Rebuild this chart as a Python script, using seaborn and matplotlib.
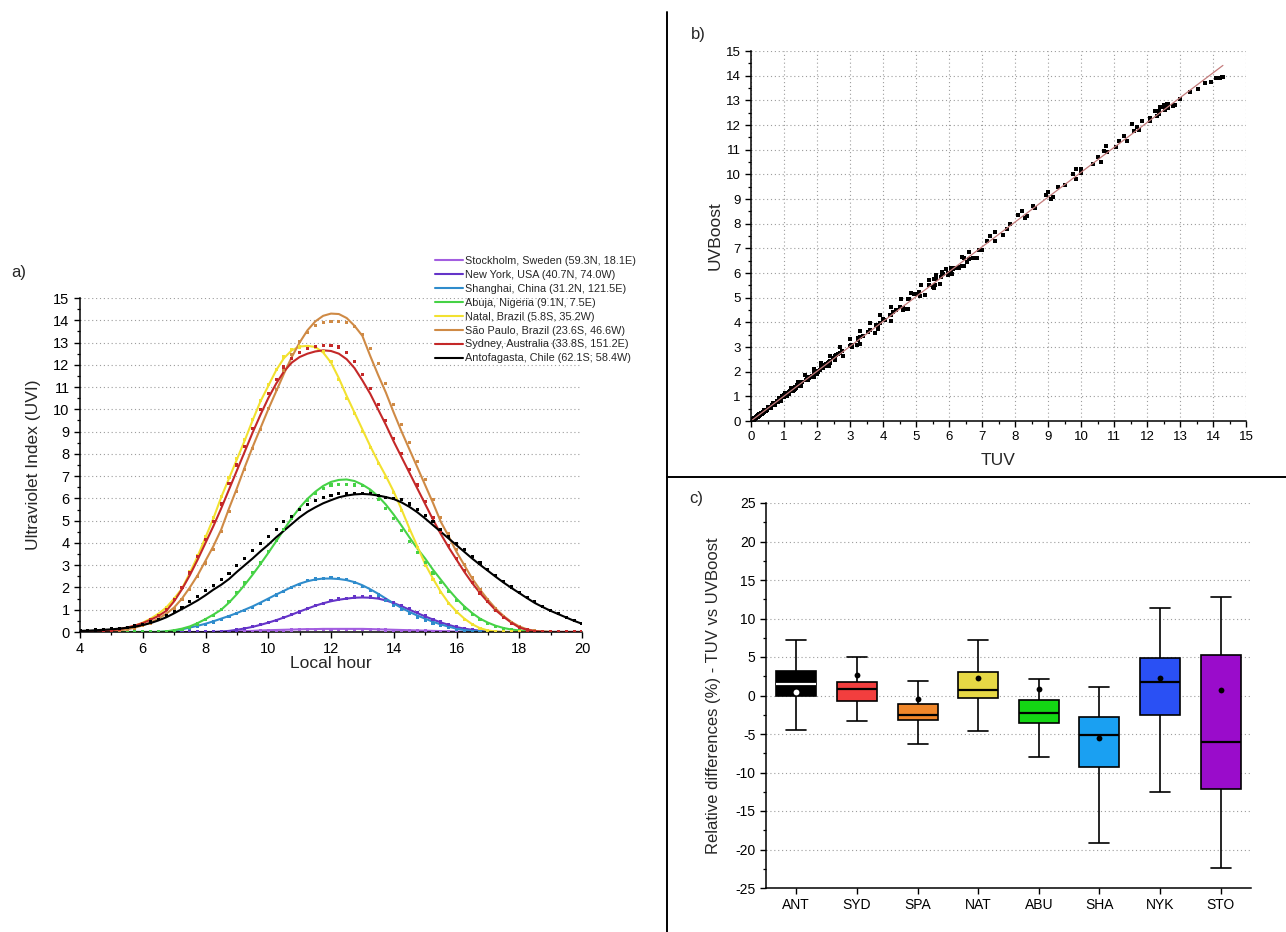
import numpy as np
import pandas as pd
import matplotlib
matplotlib.use("Agg")
import matplotlib.pyplot as plt
from matplotlib.lines import Line2D
from matplotlib.ticker import MultipleLocator
import seaborn as sns

# sampling grid of local hour (every 15 min, 4h -> 20h)
hours = np.arange(4, 20.001, 0.25)

cities = ["Stockholm, Sweden (59.3N, 18.1E)",
          "New York, USA (40.7N, 74.0W)",
          "Shanghai, China (31.2N, 121.5E)",
          "Abuja, Nigeria (9.1N, 7.5E)",
          "Natal, Brazil (5.8S, 35.2W)",
          "São Paulo, Brazil (23.6S, 46.6W)",
          "Sydney, Australia (33.8S, 151.2E)",
          "Antofagasta, Chile (62.1S; 58.4W)"]
city_colors = ["#a35ee0", "#6434c8", "#2f8ccc", "#46d246",
               "#f2e130", "#cf8a45", "#c42828", "#000000"]

# TUV curves (lines), one row per hour: h.00 h.25 h.50 h.75
sto_line = [0, 0, 0, 0,  0, 0, 0, 0,  0, 0, 0, 0,  0, 0, 0, 0,
            0, 0, 0.01, 0.02,  0.03, 0.04, 0.05, 0.07,  0.08, 0.09, 0.10, 0.11,
            0.12, 0.13, 0.13, 0.14,  0.14, 0.14, 0.14, 0.14,  0.14, 0.13, 0.12, 0.11,
            0.10, 0.09, 0.08, 0.07,  0.06, 0.05, 0.04, 0.03,  0.02, 0.01, 0.01, 0,
            0, 0, 0, 0,  0, 0, 0, 0,  0, 0, 0, 0,  0]
nyk_line = [0, 0, 0, 0,  0, 0, 0, 0,  0, 0, 0, 0,  0, 0, 0, 0,
            0, 0, 0.02, 0.05,  0.10, 0.16, 0.23, 0.32,  0.42, 0.53, 0.65, 0.78,
            0.92, 1.05, 1.18, 1.29,  1.38, 1.45, 1.50, 1.54,  1.55, 1.54, 1.50, 1.42,
            1.30, 1.16, 1.00, 0.85,  0.70, 0.56, 0.43, 0.32,  0.22, 0.15, 0.10, 0.06,
            0.03, 0.01, 0, 0,  0, 0, 0, 0,  0, 0, 0, 0,  0]
sha_line = [0, 0, 0, 0,  0, 0, 0, 0,  0, 0, 0, 0.02,  0.06, 0.12, 0.20, 0.28,
            0.37, 0.48, 0.60, 0.72,  0.85, 1.00, 1.15, 1.32,  1.50, 1.68, 1.85, 2.02,
            2.17, 2.28, 2.36, 2.40,  2.40, 2.38, 2.33, 2.24,  2.10, 1.92, 1.72, 1.50,
            1.28, 1.08, 0.90, 0.74,  0.60, 0.46, 0.34, 0.24,  0.15, 0.09, 0.05, 0.02,
            0, 0, 0, 0,  0, 0, 0, 0,  0, 0, 0, 0,  0]
abu_line = [0, 0, 0, 0,  0, 0, 0, 0,  0, 0, 0, 0.03,  0.08, 0.15, 0.25, 0.40,
            0.58, 0.78, 1.00, 1.32,  1.70, 2.12, 2.57, 3.05,  3.55, 4.07, 4.60, 5.12,
            5.58, 5.98, 6.30, 6.56,  6.74, 6.83, 6.85, 6.78,  6.62, 6.40, 6.10, 5.72,
            5.27, 4.77, 4.25, 3.75,  3.30, 2.80, 2.35, 1.90,  1.50, 1.15, 0.85, 0.60,
            0.42, 0.28, 0.18, 0.11,  0.07, 0.04, 0.02, 0.01,  0, 0, 0, 0,  0]
nat_line = [0, 0, 0.01, 0.03,  0.06, 0.11, 0.18, 0.28,  0.42, 0.60, 0.82, 1.10,
            1.50, 1.95, 2.65, 3.40,  4.25, 5.10, 6.05, 6.90,  7.75, 8.60, 9.50, 10.35,
            11.05, 11.75, 12.30, 12.65,  12.82, 12.85, 12.80, 12.55,
            12.10, 11.40, 10.60, 9.85,  9.10, 8.35, 7.65, 7.00,
            6.30, 5.50, 4.65, 3.85,  3.05, 2.40, 1.80, 1.30,  0.92, 0.60, 0.35, 0.17,
            0.07, 0.02, 0, 0,  0, 0, 0, 0,  0, 0, 0, 0,  0]
spa_line = [0, 0, 0.01, 0.02,  0.04, 0.07, 0.12, 0.20,  0.30, 0.43, 0.60, 0.82,
            1.10, 1.50, 2.00, 2.55,  3.20, 3.85, 4.60, 5.55,  6.45, 7.40, 8.30, 9.15,
            10.00, 10.80, 11.60, 12.35,  13.00, 13.55, 13.95, 14.20,
            14.30, 14.28, 14.10, 13.75,  13.30, 12.40, 11.55, 10.75,
            9.85, 9.00, 8.20, 7.40,  6.60, 5.80, 4.95, 4.30,  3.60, 3.00, 2.40, 1.90,
            1.45, 1.05, 0.72, 0.45,  0.25, 0.12, 0.05, 0.02,  0, 0, 0, 0,  0]
syd_line = [0, 0.01, 0.02, 0.04,  0.08, 0.13, 0.20, 0.29,  0.40, 0.55, 0.72, 0.95,
            1.38, 1.92, 2.55, 3.25,  4.00, 4.75, 5.55, 6.40,  7.25, 8.10, 8.95, 9.75,
            10.50, 11.15, 11.70, 12.10,  12.35, 12.50, 12.60, 12.65,
            12.62, 12.50, 12.25, 11.85,  11.30, 10.70, 10.00, 9.30,
            8.55, 7.85, 7.15, 6.45,  5.75, 5.05, 4.40, 3.80,  3.25, 2.70, 2.20, 1.75,
            1.35, 0.98, 0.68, 0.42,  0.20, 0.10, 0.04, 0.01,  0, 0, 0, 0,  0]
ant_line = [0.05, 0.06, 0.08, 0.10,  0.12, 0.15, 0.19, 0.24,  0.31, 0.40, 0.52, 0.66,
            0.84, 1.03, 1.22, 1.42,  1.65, 1.90, 2.12, 2.38,  2.70, 3.00, 3.30, 3.62,
            3.92, 4.25, 4.55, 4.85,  5.15, 5.40, 5.60, 5.78,  5.92, 6.05, 6.13, 6.18,
            6.20, 6.18, 6.13, 6.06,  5.97, 5.82, 5.62, 5.38,  5.10, 4.80, 4.50, 4.20,
            3.90, 3.60, 3.30, 3.02,  2.75, 2.48, 2.22, 1.98,  1.75, 1.52, 1.30, 1.12,
            0.95, 0.80, 0.65, 0.50,  0.37]

# UVBoost estimates (dots)
sto_dots = [0, 0, 0, 0,  0, 0, 0, 0,  0, 0, 0, 0,  0, 0, 0, 0,
            0, 0, 0, 0.01,  0.02, 0.03, 0.04, 0.05,  0.06, 0.07, 0.08, 0.09,
            0.10, 0.11, 0.11, 0.12,  0.12, 0.12, 0.12, 0.12,  0.12, 0.11, 0.10, 0.09,
            0.08, 0.07, 0.06, 0.05,  0.05, 0.04, 0.03, 0.02,  0.01, 0.01, 0, 0,
            0, 0, 0, 0,  0, 0, 0, 0,  0, 0, 0, 0,  0]
nyk_dots = [0, 0, 0, 0,  0, 0, 0, 0,  0, 0, 0, 0,  0, 0, 0, 0,
            0, 0, 0.01, 0.04,  0.09, 0.15, 0.24, 0.33,  0.44, 0.52, 0.66, 0.80,
            0.90, 1.07, 1.20, 1.27,  1.40, 1.48, 1.52, 1.57,  1.58, 1.57, 1.55, 1.46,
            1.33, 1.18, 1.04, 0.88,  0.72, 0.58, 0.45, 0.33,  0.23, 0.15, 0.10, 0.05,
            0.02, 0.01, 0, 0,  0, 0, 0, 0,  0, 0, 0, 0,  0]
sha_dots = [0, 0, 0, 0,  0, 0, 0, 0,  0, 0, 0, 0.01,  0.04, 0.10, 0.17, 0.25,
            0.33, 0.45, 0.57, 0.70,  0.82, 0.98, 1.12, 1.30,  1.46, 1.66, 1.82, 2.00,
            2.15, 2.30, 2.38, 2.42,  2.43, 2.40, 2.35, 2.22,  2.06, 1.86, 1.66, 1.42,
            1.20, 1.00, 0.82, 0.66,  0.52, 0.40, 0.29, 0.20,  0.12, 0.07, 0.03, 0.01,
            0, 0, 0, 0,  0, 0, 0, 0,  0, 0, 0, 0,  0]
abu_dots = [0, 0, 0, 0,  0, 0, 0, 0,  0, 0, 0, 0.02,  0.06, 0.13, 0.22, 0.36,
            0.55, 0.76, 1.02, 1.36,  1.78, 2.20, 2.66, 3.10,  3.62, 4.10, 4.60, 5.08,
            5.52, 5.90, 6.20, 6.45,  6.60, 6.62, 6.62, 6.60,  6.58, 6.30, 5.95, 5.55,
            5.10, 4.55, 4.05, 3.58,  3.12, 2.65, 2.22, 1.80,  1.40, 1.08, 0.80, 0.56,
            0.40, 0.26, 0.16, 0.10,  0.06, 0.03, 0.02, 0.01,  0, 0, 0, 0,  0]
nat_dots = [0, 0, 0.01, 0.02,  0.05, 0.10, 0.17, 0.27,  0.40, 0.58, 0.80, 1.08,
            1.48, 1.98, 2.70, 3.45,  4.30, 5.15, 6.10, 6.95,  7.80, 8.65, 9.55, 10.40,
            11.10, 11.80, 12.35, 12.70,  12.80, 12.80, 12.78, 12.60,
            12.15, 11.35, 10.50, 9.80,  9.00, 8.30, 7.55, 6.95,
            6.25, 5.45, 4.55, 3.80,  3.00, 2.35, 1.78, 1.28,  0.90, 0.58, 0.33, 0.16,
            0.06, 0.02, 0, 0,  0, 0, 0, 0,  0, 0, 0, 0,  0]
spa_dots = [0, 0, 0.01, 0.02,  0.03, 0.06, 0.11, 0.18,  0.28, 0.40, 0.56, 0.78,
            1.05, 1.45, 1.92, 2.48,  3.10, 3.72, 4.50, 5.40,  6.30, 7.30, 8.25, 9.10,
            10.05, 10.90, 11.75, 12.45,  13.05, 13.45, 13.75, 13.90,
            13.95, 13.95, 13.90, 13.70,  13.35, 12.75, 12.05, 11.15,
            10.20, 9.30, 8.50, 7.65,  6.85, 5.95, 5.15, 4.40,  3.70, 3.05, 2.45, 1.92,
            1.45, 1.05, 0.70, 0.44,  0.24, 0.11, 0.05, 0.02,  0, 0, 0, 0,  0]
syd_dots = [0, 0.01, 0.02, 0.04,  0.07, 0.12, 0.19, 0.28,  0.40, 0.56, 0.75, 1.00,
            1.45, 2.00, 2.65, 3.38,  4.15, 4.95, 5.75, 6.65,  7.50, 8.35, 9.15, 10.00,
            10.70, 11.35, 11.90, 12.30,  12.55, 12.72, 12.82, 12.85,
            12.85, 12.80, 12.55, 12.15,  11.55, 10.95, 10.20, 9.50,
            8.70, 8.00, 7.30, 6.60,  5.85, 5.15, 4.50, 3.88,  3.30, 2.75, 2.22, 1.75,
            1.35, 0.98, 0.66, 0.40,  0.20, 0.09, 0.04, 0.01,  0, 0, 0, 0,  0]
ant_dots = [0.05, 0.07, 0.09, 0.11,  0.14, 0.17, 0.21, 0.27,  0.34, 0.45, 0.58, 0.74,
            0.92, 1.12, 1.35, 1.60,  1.85, 2.10, 2.35, 2.62,  2.98, 3.32, 3.65, 3.98,
            4.30, 4.62, 4.95, 5.20,  5.50, 5.72, 5.90, 6.05,  6.15, 6.22, 6.22, 6.22,
            6.22, 6.20, 6.15, 6.05,  6.00, 5.95, 5.75, 5.52,  5.25, 4.95, 4.62, 4.30,
            3.98, 3.70, 3.40, 3.10,  2.82, 2.55, 2.28, 2.02,  1.78, 1.55, 1.35, 1.15,
            0.98, 0.82, 0.66, 0.52,  0.38]

line_values = [sto_line, nyk_line, sha_line, abu_line, nat_line, spa_line, syd_line, ant_line]
dot_values = [sto_dots, nyk_dots, sha_dots, abu_dots, nat_dots, spa_dots, syd_dots, ant_dots]
for arr in line_values + dot_values:
    assert len(arr) == len(hours)

# panel c: box statistics of relative differences (%)
sites = ["ANT", "SYD", "SPA", "NAT", "ABU", "SHA", "NYK", "STO"]
site_colors = ["#000000", "#f23e3e", "#f0872a", "#e6d845", "#14d714", "#1aa0f2", "#2a50f4", "#9a0ccb"]
whisk_low = [-4.5, -3.25, -6.28, -4.55, -7.97, -19.1, -12.52, -22.36]
q1 = [0.0, -0.65, -3.16, -0.35, -3.55, -9.27, -2.56, -12.09]
med = [1.47, 0.82, -2.51, 0.65, -2.3, -5.11, 1.69, -6.07]
q3 = [3.2, 1.73, -1.04, 3.03, -0.52, -2.77, 4.85, 5.2]
whisk_high = [7.15, 4.98, 1.82, 7.24, 2.12, 1.08, 11.35, 12.78]
means = [0.39, 2.6, -0.43, 2.3, 0.78, -5.46, 2.21, 0.65]

sns.set_style("ticks")
plt.rcParams["font.family"] = ["Liberation Sans", "DejaVu Sans"]
plt.rcParams["axes.unicode_minus"] = False
plt.rcParams["axes.edgecolor"] = "black"
plt.rcParams["axes.linewidth"] = 1.1
for a in ("xtick", "ytick"):
    plt.rcParams[a + ".color"] = "black"
    plt.rcParams[a + ".direction"] = "out"
    plt.rcParams[a + ".major.size"] = 4
    plt.rcParams[a + ".minor.size"] = 2.5
    plt.rcParams[a + ".major.width"] = 1.0
    plt.rcParams[a + ".minor.width"] = 0.9

W, H = 1286, 932
fig = plt.figure(figsize=(W / 100, H / 100), dpi=100)
ax_a = fig.add_axes([80 / W, 1 - 632 / H, 502 / W, 334 / H])
ax_b = fig.add_axes([751 / W, 1 - 421 / H, 495 / W, 370 / H])
ax_c = fig.add_axes([766 / W, 1 - 888 / H, 485 / W, 385 / H])
grid_kw = dict(ls=(0, (1, 2.5)), color="#9c9c9c", lw=0.8)

# ---- a) diurnal UVI curves
n = len(hours)
line_df = pd.DataFrame({"hour": np.tile(hours, len(cities)),
                        "uvi": np.concatenate(line_values),
                        "city": np.repeat(cities, n)})
dot_df = pd.DataFrame({"hour": np.tile(hours, len(cities)),
                       "uvi": np.concatenate(dot_values),
                       "city": np.repeat(cities, n)})
palette = dict(zip(cities, city_colors))
sns.scatterplot(data=dot_df, x="hour", y="uvi", hue="city", hue_order=cities, palette=palette,
                marker="s", s=5, linewidth=0, legend=False, ax=ax_a, zorder=3)
sns.lineplot(data=line_df, x="hour", y="uvi", hue="city", hue_order=cities, palette=palette,
             estimator=None, lw=1.5, ax=ax_a, zorder=2)
handles, labels = ax_a.get_legend_handles_labels()
ax_a.get_legend().remove()
fig.legend(handles, labels, loc="upper left", bbox_to_anchor=(435 / W, 1 - 256 / H),
           frameon=False, fontsize=7.8, handlelength=2.55, handletextpad=0.2,
           labelspacing=0.36, borderpad=0, borderaxespad=0)
ax_a.set_xlim(4, 20)
ax_a.set_ylim(0, 15)
ax_a.xaxis.set_major_locator(MultipleLocator(2))
ax_a.xaxis.set_minor_locator(MultipleLocator(1))
ax_a.yaxis.set_major_locator(MultipleLocator(1))
ax_a.yaxis.set_minor_locator(MultipleLocator(0.5))
ax_a.tick_params(labelsize=10.5)
ax_a.grid(axis="y", **grid_kw)
ax_a.set_axisbelow(True)
ax_a.set_xlabel("Local hour", fontsize=12.5)
ax_a.set_ylabel("Ultraviolet Index (UVI)", fontsize=12.5)
ax_a.xaxis.set_label_coords(0.5, -0.072)
ax_a.yaxis.set_label_coords(-0.077, 0.5)
sns.despine(ax=ax_a)

# ---- b) TUV vs UVBoost
tuv = np.concatenate(line_values)
uvb = np.concatenate(dot_values)
sns.regplot(x=tuv, y=uvb, ax=ax_b, ci=None, marker="s",
            scatter_kws=dict(s=6, color="black", linewidths=0, alpha=1),
            line_kws=dict(color="#c47c7c", lw=0.9))
ax_b.set_xlim(0, 15)
ax_b.set_ylim(0, 15)
for axis in (ax_b.xaxis, ax_b.yaxis):
    axis.set_major_locator(MultipleLocator(1))
    axis.set_minor_locator(MultipleLocator(0.5))
ax_b.tick_params(labelsize=9.5)
ax_b.grid(**grid_kw)
ax_b.set_axisbelow(True)
ax_b.set_xlabel("TUV", fontsize=12.5)
ax_b.set_ylabel("UVBoost", fontsize=12.5)
ax_b.xaxis.set_label_coords(0.5, -0.087)
ax_b.yaxis.set_label_coords(-0.058, 0.5)
sns.despine(ax=ax_b)

# ---- c) relative differences
box_df = pd.DataFrame({"site": np.repeat(sites, 5),
                       "diff": np.column_stack([whisk_low, q1, med, q3, whisk_high]).ravel()})
sns.boxplot(data=box_df, x="site", y="diff", hue="site", palette=dict(zip(sites, site_colors)),
            saturation=1, legend=False, whis=(0, 100), width=0.66, linecolor="black",
            linewidth=1.2, showfliers=False, medianprops=dict(lw=1.6), ax=ax_c)
for ln in ax_c.lines:
    xd, yd = np.asarray(ln.get_xdata(), float), np.asarray(ln.get_ydata(), float)
    if len(yd) == 2 and np.allclose(yd, med[0]) and np.all(xd < 0.5):
        ln.set_color("white")
mean_df = pd.DataFrame({"site": sites, "mean": means})
sns.stripplot(data=mean_df, x="site", y="mean", hue="site",
              palette=dict(zip(sites, ["white"] + ["black"] * 7)),
              jitter=False, size=4.2, linewidth=0, legend=False, ax=ax_c, zorder=5)
ax_c.set_xlim(-0.5, 7.5)
ax_c.set_ylim(-25, 25)
ax_c.yaxis.set_major_locator(MultipleLocator(5))
ax_c.yaxis.set_minor_locator(MultipleLocator(2.5))
ax_c.tick_params(labelsize=10)
ax_c.grid(axis="y", **grid_kw)
ax_c.set_axisbelow(True)
ax_c.set_xlabel("")
ax_c.set_ylabel("Relative differences (%) - TUV vs UVBoost", fontsize=12)
ax_c.yaxis.set_label_coords(-0.093, 0.5)
sns.despine(ax=ax_c)

# panel frame lines and letters
fig.add_artist(Line2D([667 / W, 667 / W], [0, 1 - 12 / H], transform=fig.transFigure, color="black", lw=1.4))
fig.add_artist(Line2D([667 / W, 1], [1 - 477 / H, 1 - 477 / H], transform=fig.transFigure, color="black", lw=1.4))
fig.text(19 / W, 1 - 273 / H, "a)", fontsize=12, ha="center", va="center")
fig.text(698 / W, 1 - 35 / H, "b)", fontsize=12, ha="center", va="center")
fig.text(696 / W, 1 - 498 / H, "c)", fontsize=12, ha="center", va="center")

fig.savefig("out.png", dpi=100)
